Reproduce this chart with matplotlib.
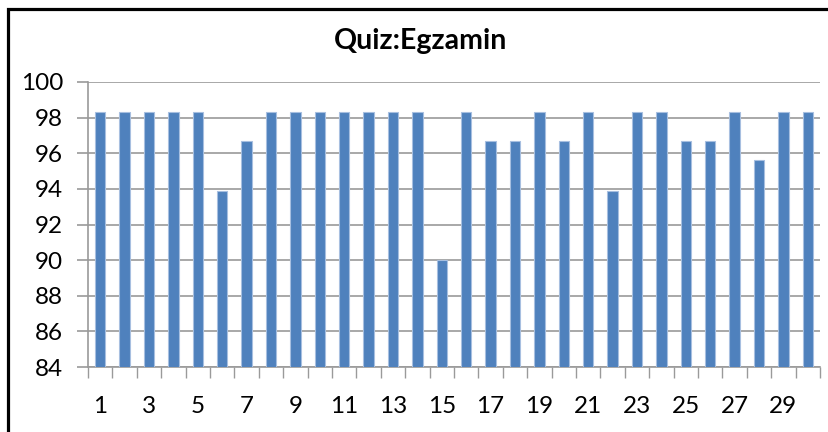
import matplotlib.pyplot as plt
from matplotlib.patches import Rectangle

# dane
quiz = list(range(1, 31))
scores = [98.3, 98.3, 98.3, 98.3, 98.3, 93.9, 96.7, 98.3, 98.3, 98.3,
          98.3, 98.3, 98.3, 98.3, 90.0, 98.3, 96.7, 96.7, 98.3, 96.7,
          98.3, 93.9, 98.3, 98.3, 96.7, 96.7, 98.3, 95.6, 98.3, 98.3]
yticks = list(range(84, 101, 2))

plt.rcParams['font.family'] = ['Lato', 'DejaVu Sans']

fig = plt.figure(figsize=(8.29, 4.32), dpi=100)
ax = fig.add_axes([88/829, 1 - 367/432, (820-88)/829, (367-82)/432])

ax.bar(quiz, scores, width=0.42, color='#4F81BD', edgecolor='#a7bfe0',
       linewidth=0.8, zorder=3)

ax.set_ylim(84, 100)
ax.set_xlim(0.5, 30.5)
ax.set_yticks(yticks)
ax.yaxis.grid(True, color='#9a9a9a', linewidth=1.2, zorder=0)
ax.tick_params(axis='y', length=8, width=1.2, color='#9a9a9a',
               labelsize=17.5, pad=10)

ax.set_xticks(quiz[::2])
ax.set_xticks([q + 0.5 for q in range(0, 31)], minor=True)
ax.tick_params(axis='x', which='major', length=0, labelsize=17.5, pad=21)
ax.tick_params(axis='x', which='minor', length=8, color='#9a9a9a', width=1)

for s in ['top', 'right']:
    ax.spines[s].set_visible(False)
for s in ['left', 'bottom']:
    ax.spines[s].set_color('#9a9a9a')
    ax.spines[s].set_linewidth(1.2)

fig.text(0.507, 1 - 41/432, 'Quiz:Egzamin', ha='center', va='center',
         fontsize=20.5, fontweight='bold')

# ramka wykresu (bez prawej krawedzi w kadrze)
fig.patches.append(Rectangle((8/829, -0.05), 1.1, 1.05 - 9/432,
                             transform=fig.transFigure, fill=False,
                             edgecolor='black', linewidth=2.3))

fig.savefig('out.png', dpi=100)
